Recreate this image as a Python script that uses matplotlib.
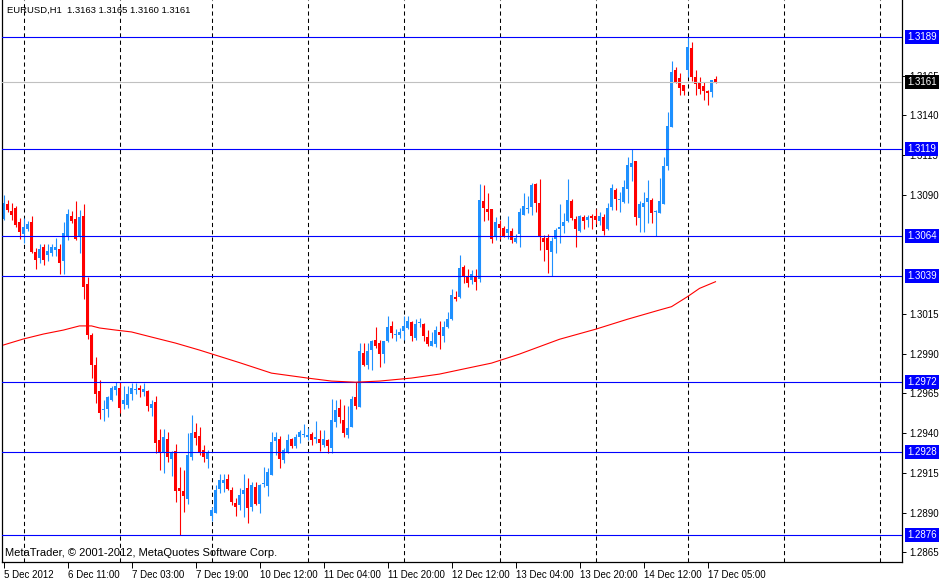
import matplotlib
matplotlib.use("Agg")
import matplotlib.pyplot as plt
import matplotlib.transforms as mtransforms
import numpy as np

# EURUSD H1 candles, 5 Dec 19:00 .. 17 Dec 07:00 (2012)
# prices are given as pips relative to 1.3000
BASE = 1.3000

open_pips = [
    74.5, 84.2, 79.8, 81.7, 72.9, 65.5, 68.6, 72.9, 54.0, 50.4,
    56.9, 52.1, 53.3, 55.2, 55.8, 48.4, 64.0, 76.6, 74.8, 63.2,
    76.6, 33.9, 1.8, -17.0, -33.4, -45.7, -44.5, -39.1, -32.8, -31.5,
    -41.6, -42.0, -35.3, -32.8, -31.3, -34.0, -33.4, -43.9, -40.3, -64.2,
    -72.6, -63.6, -76.2, -71.1, -94.2, -96.3, -101.1, -74.7, -59.0, -61.7,
    -70.5, -76.2, -112.0, -109.9, -95.0, -91.0, -88.7, -95.7, -104.0, -105.1,
    -98.2, -94.4, -106.1, -93.6, -104.7, -91.9, -93.2, -86.0, -64.6, -63.6,
    -76.8, -71.8, -63.6, -68.0, -62.6, -61.1, -62.1, -60.5, -63.8, -63.6,
    -67.4, -64.2, -69.1, -52.7, -43.9, -51.7, -61.1, -55.8, -37.0, -43.7,
    -9.3, -17.1, -7.7, -1.4, -3.1, -10.2, -2.0, 7.6, 1.5, 2.0,
    4.3, 6.2, 9.9, 0.1, 9.3, 8.7, 0.7, -5.0, -3.9, 3.6,
    1.3, 7.0, 11.8, 25.9, 25.4, 44.7, 38.0, 36.3, 38.4, 36.7,
    86.0, 81.0, 81.0, 63.6, 71.6, 68.9, 65.7, 67.2, 60.5, 65.3,
    77.4, 81.2, 82.5, 96.7, 85.0, 63.0, 63.0, 54.0, 61.9, 68.4,
    70.3, 73.7, 86.0, 74.7, 67.4, 75.8, 74.1, 76.6, 76.6, 73.7,
    75.8, 68.4, 82.5, 93.0, 86.7, 85.4, 93.6, 107.7, 111.2, 75.6,
    82.5, 85.7, 86.7, 79.0, 78.7, 84.2, 108.1, 132.8, 168.4, 163.6,
    159.0, 168.4, 182.5, 164.3, 161.1, 158.6, 155.5, 154.8, 163.0,
]

high_pips = [
    89.9, 86.7, 84.6, 82.9, 75.2, 75.2, 73.3, 76.6, 56.3, 59.0,
    59.0, 59.0, 59.0, 62.8, 58.8, 73.1, 81.0, 79.6, 85.9, 80.4,
    84.2, 38.5, 3.0, -11.8, -26.5, -39.1, -36.5, -30.3, -27.7, -27.7,
    -30.3, -30.3, -28.6, -28.6, -29.6, -28.6, -33.0, -39.1, -36.5, -57.3,
    -57.3, -59.0, -71.1, -66.7, -81.0, -83.1, -60.0, -48.5, -53.7, -55.8,
    -67.4, -70.5, -106.1, -92.5, -85.6, -85.6, -85.6, -93.6, -100.9, -94.6,
    -85.6, -88.3, -90.5, -90.9, -91.9, -81.4, -82.0, -59.0, -59.0, -61.7,
    -69.5, -60.5, -63.2, -60.5, -57.9, -54.2, -56.9, -59.0, -52.3, -57.9,
    -57.9, -63.8, -38.7, -39.1, -38.7, -42.2, -42.9, -36.4, -28.0, -3.0,
    -3.4, -3.0, -1.4, 6.6, -1.4, -1.8, 13.7, 10.8, 5.5, 5.9,
    13.7, 13.7, 10.8, 11.8, 12.2, 9.1, 4.9, 3.6, 7.4, 10.6,
    10.6, 16.4, 30.5, 29.6, 52.1, 45.8, 43.0, 42.6, 43.0, 96.7,
    96.1, 90.9, 81.0, 76.2, 74.1, 70.3, 76.6, 69.3, 65.1, 81.4,
    91.3, 89.2, 97.2, 97.6, 99.7, 64.7, 65.1, 63.6, 68.9, 84.2,
    78.7, 99.7, 87.1, 76.6, 77.2, 77.2, 77.2, 77.9, 80.8, 79.3,
    77.9, 85.0, 96.8, 94.1, 91.5, 99.3, 114.0, 119.0, 111.2, 86.3,
    91.5, 99.3, 88.2, 80.4, 100.3, 114.0, 142.2, 174.1, 170.5, 166.4,
    159.0, 189.0, 185.8, 168.4, 164.3, 161.1, 155.9, 162.2, 165.0,
]

low_pips = [
    74.0, 79.4, 74.1, 69.9, 62.3, 59.8, 67.4, 53.1, 43.5, 47.3,
    45.6, 48.6, 51.5, 51.5, 40.2, 40.2, 61.5, 72.0, 61.5, 53.5,
    24.7, -0.9, -25.2, -40.7, -50.8, -52.0, -50.0, -39.9, -35.7, -47.0,
    -44.5, -44.3, -39.1, -35.3, -37.0, -36.5, -45.8, -49.1, -72.6, -83.1,
    -84.8, -77.8, -86.9, -103.0, -124.0, -109.3, -104.5, -76.8, -67.4, -73.6,
    -77.8, -82.0, -114.9, -110.3, -97.8, -96.7, -95.7, -105.1, -112.0, -108.2,
    -112.4, -116.6, -108.7, -105.1, -110.3, -93.6, -99.4, -86.0, -73.7, -81.6,
    -78.9, -72.6, -69.5, -69.5, -65.9, -62.6, -64.2, -67.4, -66.3, -71.1,
    -68.4, -72.6, -72.6, -55.8, -53.8, -62.1, -62.8, -55.8, -45.0, -43.7,
    -17.5, -19.8, -20.3, -6.6, -18.6, -15.6, -2.7, 0.1, -1.8, -0.3,
    -1.4, 5.3, -1.8, -1.4, 7.0, -1.8, -5.0, -5.0, -5.6, -7.1,
    -2.7, 5.9, 11.2, 23.3, 24.8, 34.7, 31.7, 33.8, 30.0, 35.3,
    73.6, 74.1, 59.4, 61.5, 61.9, 63.6, 62.4, 59.4, 59.4, 57.3,
    77.0, 78.3, 77.4, 79.3, 55.2, 48.5, 40.6, 39.0, 53.6, 59.4,
    66.1, 72.8, 74.1, 57.3, 66.8, 68.4, 69.5, 68.4, 71.6, 71.2,
    64.7, 67.8, 80.4, 80.4, 79.4, 84.6, 85.0, 98.9, 71.0, 66.8,
    66.8, 72.5, 72.5, 64.0, 78.7, 84.2, 105.6, 132.8, 160.5, 152.7,
    152.7, 164.3, 161.7, 152.7, 153.4, 149.6, 146.7, 151.7, 160.0,
]

close_pips = [
    84.6, 80.4, 77.5, 71.2, 66.5, 69.7, 71.6, 54.0, 49.0, 55.8,
    49.0, 54.6, 56.9, 57.1, 47.3, 65.9, 77.9, 73.7, 62.1, 76.0,
    32.2, 1.8, -17.0, -35.1, -47.0, -44.9, -37.0, -31.5, -30.3, -44.1,
    -39.1, -35.3, -31.7, -32.1, -32.8, -32.1, -42.8, -41.4, -65.9, -71.6,
    -62.1, -75.1, -72.6, -96.3, -96.3, -99.8, -73.6, -60.0, -63.0, -71.6,
    -75.1, -71.6, -108.2, -95.7, -89.4, -89.4, -95.0, -103.2, -106.1, -98.8,
    -95.7, -106.8, -92.5, -104.5, -92.5, -91.1, -84.4, -65.5, -62.3, -76.0,
    -70.5, -64.2, -68.0, -62.6, -59.2, -60.9, -61.7, -64.2, -62.1, -66.3,
    -63.6, -68.0, -51.7, -45.4, -49.6, -59.6, -56.5, -38.5, -42.9, -8.3,
    -17.3, -8.3, -1.8, -5.2, -10.2, -2.2, 6.8, 2.8, 1.7, 3.6,
    7.6, 10.6, 1.3, 8.7, 9.7, 1.3, -3.9, -2.0, 4.9, 1.7,
    7.0, 11.8, 26.9, 24.4, 44.1, 38.4, 34.7, 39.9, 35.3, 86.6,
    81.4, 79.3, 62.4, 73.0, 69.3, 64.0, 68.4, 61.7, 63.0, 79.1,
    82.9, 81.6, 96.1, 85.0, 64.0, 60.5, 55.2, 60.9, 67.8, 69.5,
    72.8, 86.7, 75.6, 68.4, 76.6, 73.5, 75.8, 75.1, 73.9, 76.6,
    67.2, 81.6, 94.5, 87.5, 87.1, 94.7, 108.7, 110.2, 76.2, 84.2,
    85.0, 87.8, 78.7, 79.8, 86.1, 108.1, 133.2, 167.4, 160.5, 156.9,
    155.5, 183.1, 164.3, 159.6, 156.5, 155.2, 153.8, 162.2, 161.0,
]

# moving average (red line), read at a few bars
ma_bars = [0, 5, 10, 15, 19, 22, 24, 28, 32, 37, 43, 49, 59, 67, 76, 82, 88,
           94, 102, 109, 115, 122, 129, 139, 148, 156, 164, 167, 171, 174, 178]
ma_pips = [-4.5, -0.7, 2.4, 4.9, 7.5, 7.5, 6.2, 4.9, 3.7, 0.5, -3.3, -7.7,
           -15.6, -22.2, -25.3, -27.2, -27.9, -27.2, -25.3, -22.8, -19.6,
           -15.9, -10.2, -0.9, 5.4, 11.7, 17.5, 19.6, 25.9, 31.1, 35.3]

# horizontal levels drawn on the chart
levels = [1.3189, 1.3119, 1.3064, 1.3039, 1.2972, 1.2928, 1.2876]
last_price = 1.3161

# day separators (bar index of each day's first bar)
separator_bars = [5, 29, 52, 76, 100, 124, 148, 171, 195, 219]

date_tick_bars = list(range(0, 177, 16))
date_labels = ["5 Dec 2012", "6 Dec 11:00", "7 Dec 03:00", "7 Dec 19:00",
               "10 Dec 12:00", "11 Dec 04:00", "11 Dec 20:00", "12 Dec 12:00",
               "13 Dec 04:00", "13 Dec 20:00", "14 Dec 12:00", "17 Dec 05:00"]

# price scale labels (1.3065 and 1.3040 sit under the level boxes, not shown)
price_ticks = [1.3165, 1.3140, 1.3115, 1.3090, 1.3015, 1.2990, 1.2965,
               1.2940, 1.2915, 1.2890, 1.2865]

title = "EURUSD,H1  1.3163 1.3165 1.3160 1.3161"
copyright_text = "MetaTrader, \u00a9 2001-2012, MetaQuotes Software Corp."

BULL = "#1E90FF"
BEAR = "#FF0000"
FONT = "Liberation Sans"

o = BASE + np.array(open_pips) / 1e4
h = BASE + np.array(high_pips) / 1e4
l = BASE + np.array(low_pips) / 1e4
c = BASE + np.array(close_pips) / 1e4
x = np.arange(len(o))
colors = [BULL if cc >= oo else BEAR for oo, cc in zip(o, c)]

W, H = 940, 579
fig = plt.figure(figsize=(W / 100, H / 100), dpi=100)
ax = fig.add_axes([2 / W, 17 / H, 900 / W, 562 / H])

ax.set_xlim(-0.375, 224.625)
ax.set_ylim(1.28590, 1.32125)

# day separators
for b in separator_bars:
    ax.axvline(b, color="black", lw=0.75, linestyle=(0, (4, 3)), zorder=1)

# candles
ax.vlines(x, l, h, colors=colors, lw=0.8, zorder=2)
body = np.maximum(np.abs(c - o), 0.00007)
ax.bar(x, body, bottom=np.minimum(o, c), width=0.8, color=colors,
       linewidth=0, zorder=2)

# levels
ax.axhline(last_price, color="#C0C0C0", lw=0.8, zorder=3)
for lv in levels:
    ax.axhline(lv, color="#0000FF", lw=0.8, zorder=3)

# moving average
ax.plot(ma_bars, BASE + np.array(ma_pips) / 1e4, color="red", lw=0.8, zorder=4)

# right-hand price labels for the levels
trans = mtransforms.blended_transform_factory(ax.transAxes, ax.transData)
box_kw = dict(transform=trans, color="white", fontsize=7, family=FONT,
              va="center", ha="left", clip_on=False, zorder=6)
for lv in levels:
    ax.text(1.0055, lv, f"{lv:.4f}",
            bbox=dict(boxstyle="square,pad=0.2", fc="#0000FF", ec="none"),
            **box_kw)
ax.text(1.0055, last_price, f"{last_price:.4f}",
        bbox=dict(boxstyle="square,pad=0.2", fc="black", ec="none"), **box_kw)

# axes styling
ax.yaxis.tick_right()
ax.set_yticks(price_ticks)
ax.set_yticklabels([f"{p:.4f}" for p in price_ticks], family=FONT)
ax.tick_params(axis="y", direction="out", length=3, width=0.7, labelsize=7,
               pad=2.5, colors="black")
ax.set_xticks(date_tick_bars)
ax.set_xticklabels(date_labels, family=FONT, ha="left")
ax.tick_params(axis="x", direction="out", length=4, width=0.7, labelsize=7,
               pad=1.5)
ax.spines["top"].set_visible(False)
for s in ("left", "right", "bottom"):
    ax.spines[s].set_linewidth(0.9)
    ax.spines[s].set_color("black")

fig.text(7 / W, 1 - 10 / H, title, fontsize=6.8, family=FONT, va="center",
         ha="left")
fig.text(5 / W, 1 - 553 / H, copyright_text, fontsize=8, family=FONT,
         va="center", ha="left")

fig.savefig("out.png", dpi=100)
